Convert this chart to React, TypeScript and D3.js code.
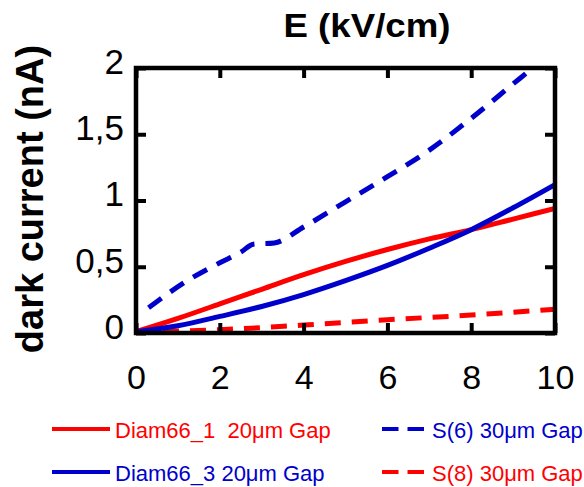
import React, { useEffect, useRef } from 'react';
import * as d3 from 'd3';

// E (kV/cm) vs dark current (nA)
const diam66_1_E = [0, 1, 2, 3, 4, 5, 6, 7, 8, 9, 10];
const diam66_1_I = [0.01, 0.11, 0.22, 0.33, 0.44, 0.54, 0.63, 0.71, 0.78, 0.86, 0.94];

const diam66_3_E = [0, 1, 2, 3, 4, 5, 6, 7, 8, 9, 10];
const diam66_3_I = [0.01, 0.055, 0.125, 0.2, 0.29, 0.395, 0.51, 0.64, 0.78, 0.945, 1.12];

const s6_E = [0.3, 1.2, 2, 2.5, 2.8, 3.3, 4, 5, 6, 7, 8, 9, 9.5, 10];
const s6_I = [0.19, 0.39, 0.53, 0.61, 0.67, 0.68, 0.8, 0.99, 1.18, 1.38, 1.62, 1.88, 2.01, 2.15];

const s8_E = [0, 2, 4, 6, 8, 10];
const s8_I = [0.01, 0.025, 0.06, 0.1, 0.135, 0.18];

const xTicks = [0, 2, 4, 6, 8, 10];
const yTicks = [0, 0.5, 1, 1.5, 2];

const RED = '#FF0000';
const BLUE = '#0000CC';

const series = [
  { name: 'S(6) 30\u03bcm Gap', E: s6_E, I: s6_I, color: BLUE, dash: '16,11' },
  { name: 'S(8) 30\u03bcm Gap', E: s8_E, I: s8_I, color: RED, dash: '16,11' },
  { name: 'Diam66_1  20\u03bcm Gap', E: diam66_1_E, I: diam66_1_I, color: RED, dash: null },
  { name: 'Diam66_3 20\u03bcm Gap', E: diam66_3_E, I: diam66_3_I, color: BLUE, dash: null },
];

const W = 584;
const H = 487;
const plot = { left: 136, right: 555, top: 68, bottom: 333 };
const FONT = 'Arial, "Liberation Sans", Helvetica, sans-serif';

const App = () => {
  const svgRef = useRef<SVGSVGElement>(null);

  useEffect(() => {
    const svg = d3.select(svgRef.current);
    svg.selectAll('*').remove();

    const x = d3.scaleLinear().domain([0, 10]).range([plot.left, plot.right]);
    const y = d3.scaleLinear().domain([0, 2]).range([plot.bottom, plot.top]);

    svg.append('defs').append('clipPath').attr('id', 'plotclip')
      .append('rect')
      .attr('x', plot.left).attr('y', plot.top)
      .attr('width', plot.right - plot.left).attr('height', plot.bottom - plot.top);

    const line = d3.line<[number, number]>()
      .x(d => x(d[0]))
      .y(d => y(d[1]))
      .curve(d3.curveMonotoneX);

    const g = svg.append('g').attr('clip-path', 'url(#plotclip)');
    series.forEach(s => {
      const pts = s.E.map((e, i) => [e, s.I[i]] as [number, number]);
      g.append('path')
        .attr('d', line(pts))
        .attr('fill', 'none')
        .attr('stroke', s.color)
        .attr('stroke-width', 5)
        .attr('stroke-dasharray', s.dash)
        .attr('stroke-linejoin', 'round');
    });

    const fmt = (d: d3.NumberValue) => String(d).replace('.', ',');

    // bottom axis
    const xb = svg.append('g')
      .attr('transform', `translate(0,${plot.bottom})`)
      .call(d3.axisBottom(x).tickValues(xTicks).tickSizeInner(-10).tickSizeOuter(0).tickPadding(32));
    // left axis
    const yl = svg.append('g')
      .attr('transform', `translate(${plot.left},0)`)
      .call(d3.axisLeft(y).tickValues(yTicks).tickFormat(fmt).tickSizeInner(-10).tickSizeOuter(0).tickPadding(12));
    // top and right (ticks only)
    const xt = svg.append('g')
      .attr('transform', `translate(0,${plot.top})`)
      .call(d3.axisTop(x).tickValues(xTicks).tickFormat(() => '').tickSizeInner(-10).tickSizeOuter(0));
    const yr = svg.append('g')
      .attr('transform', `translate(${plot.right},0)`)
      .call(d3.axisRight(y).tickValues(yTicks).tickFormat(() => '').tickSizeInner(-10).tickSizeOuter(0));

    [xb, yl, xt, yr].forEach(a => {
      a.select('.domain').remove();
      a.selectAll('line').attr('stroke', '#000').attr('stroke-width', 4);
      a.selectAll('text')
        .attr('font-family', FONT)
        .attr('font-size', 34)
        .attr('fill', '#000');
    });
    yl.selectAll('text').attr('dy', '0.15em').attr('font-size', 35);

    svg.append('rect')
      .attr('x', plot.left).attr('y', plot.top)
      .attr('width', plot.right - plot.left).attr('height', plot.bottom - plot.top)
      .attr('fill', 'none')
      .attr('stroke', '#000')
      .attr('stroke-width', 4.5);

    // titles
    svg.append('text')
      .attr('x', 367).attr('y', 37)
      .attr('text-anchor', 'middle')
      .attr('font-family', FONT)
      .attr('font-weight', 'bold')
      .attr('font-size', 33)
      .attr('textLength', 167)
      .attr('lengthAdjust', 'spacingAndGlyphs')
      .text('E (kV/cm)');

    svg.append('text')
      .attr('transform', 'translate(43,199) rotate(-90)')
      .attr('text-anchor', 'middle')
      .attr('font-family', FONT)
      .attr('font-weight', 'bold')
      .attr('font-size', 38)
      .text('dark current (nA)');

    // legend
    const legend = [
      { s: series[2], x: 52, len: 58, y: 429 },
      { s: series[3], x: 52, len: 58, y: 472 },
      { s: series[0], x: 382, len: 42, y: 429 },
      { s: series[1], x: 382, len: 42, y: 472 },
    ];
    legend.forEach(l => {
      svg.append('line')
        .attr('x1', l.x).attr('x2', l.x + l.len)
        .attr('y1', l.y).attr('y2', l.y)
        .attr('stroke', l.s.color)
        .attr('stroke-width', 4)
        .attr('stroke-dasharray', l.s.dash ? '16.5,9' : null);
      svg.append('text')
        .attr('x', l.x + l.len + (l.s.dash ? 8 : 5))
        .attr('y', l.y + 9)
        .attr('font-family', FONT)
        .attr('font-size', 22)
        .attr('fill', l.s.color)
        .style('white-space', 'pre')
        .text(l.s.name);
    });
  }, []);

  return (
    <svg
      ref={svgRef}
      width={W}
      height={H}
      style={{ position: 'absolute', left: 0, top: 0, background: '#fff' }}
    />
  );
};

export default App;
